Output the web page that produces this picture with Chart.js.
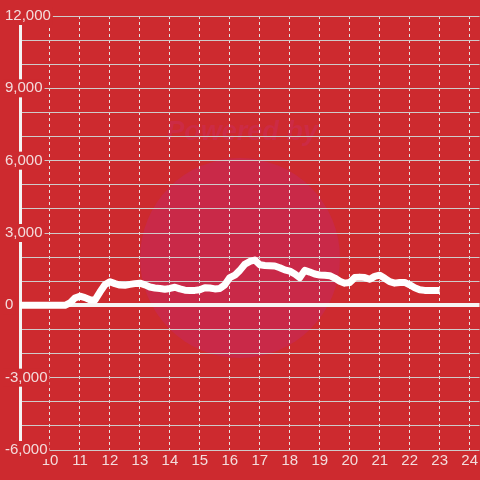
<!DOCTYPE html>
<html>
<head>
<meta charset="utf-8">
<script src="https://cdn.jsdelivr.net/npm/chart.js@4.4.1/dist/chart.umd.min.js"></script>
<style>
  html, body { margin: 0; padding: 0; background: #cd2a2f; }
  #wrap { width: 480px; height: 480px; }
</style>
</head>
<body>
<div id="wrap"><canvas id="myChart"></canvas></div>
<script>
// hours of the day, one point every 10 minutes from 9:00 to 23:00
const hours = [
  9, 9.167, 9.333, 9.5, 9.667, 9.833, 10, 10.167, 10.333, 10.5,
  10.667, 10.833, 11, 11.167, 11.333, 11.5, 11.667, 11.833, 12, 12.167,
  12.333, 12.5, 12.667, 12.833, 13, 13.167, 13.333, 13.5, 13.667, 13.833,
  14, 14.167, 14.333, 14.5, 14.667, 14.833, 15, 15.167, 15.333, 15.5,
  15.667, 15.833, 16, 16.167, 16.333, 16.5, 16.667, 16.833, 17, 17.167,
  17.333, 17.5, 17.667, 17.833, 18, 18.167, 18.333, 18.5, 18.667, 18.833,
  19, 19.167, 19.333, 19.5, 19.667, 19.833, 20, 20.167, 20.333, 20.5,
  20.667, 20.833, 21, 21.167, 21.333, 21.5, 21.667, 21.833, 22, 22.167,
  22.333, 22.5, 22.667, 22.833, 23
];
const values = [
  0, 0, 0, 0, 0, 0, 0, 0, 0, 0,
  100, 300, 380, 320, 230, 220, 550, 850, 980, 900,
  840, 830, 870, 900, 920, 850, 760, 720, 700, 670,
  700, 750, 680, 630, 620, 620, 650, 730, 720, 680,
  700, 850, 1150, 1250, 1450, 1700, 1820, 1880, 1680, 1650,
  1640, 1630, 1560, 1470, 1420, 1300, 1150, 1450, 1380, 1300,
  1260, 1250, 1230, 1130, 1000, 920, 950, 1150, 1170, 1150,
  1080, 1200, 1250, 1120, 980, 920, 950, 950, 850, 730,
  650, 620, 620, 620, 620
];
const xTicks = [10, 11, 12, 13, 14, 15, 16, 17, 18, 19, 20, 21, 22, 23, 24];
const yLabelTicks = [-6000, -3000, 0, 3000, 6000, 9000, 12000];

const bgColor = '#cd2a2f';
const textColor = '#f3dcdc';

// red background plus the faint watermark behind the grid
const backdrop = {
  id: 'backdrop',
  beforeDraw(chart) {
    const c = chart.ctx;
    c.save();
    c.fillStyle = bgColor;
    c.fillRect(0, 0, chart.width, chart.height);
    c.fillStyle = '#c92948';
    c.beginPath();
    c.arc(240, 258, 100, 0, Math.PI * 2);
    c.fill();
    c.fillStyle = '#cc2b45';
    c.font = 'italic bold 27px "Liberation Sans", Arial, sans-serif';
    c.textAlign = 'center';
    c.textBaseline = 'middle';
    c.fillText('Powered by', 242, 133);
    c.restore();
  }
};

const ctx = document.getElementById('myChart').getContext('2d');
const myChart = new Chart(ctx, {
  type: 'line',
  data: {
    datasets: [{
      data: hours.map((h, i) => ({ x: h, y: values[i] })),
      borderColor: '#ffffff',
      borderWidth: 7,
      borderJoinStyle: 'round',
      pointRadius: 0,
      tension: 0,
      fill: false
    }]
  },
  options: {
    responsive: true,
    maintainAspectRatio: false,
    animation: false,
    layout: { padding: { left: 20, top: 16, right: 0, bottom: 8 } },
    plugins: { legend: { display: false }, tooltip: { enabled: false } },
    scales: {
      x: {
        type: 'linear',
        min: 9,
        max: 24.33,
        afterBuildTicks: s => { s.ticks = xTicks.map(v => ({ value: v })); },
        border: { display: false, dash: [3, 3] },
        grid: {
          color: '#e6e6e6',
          lineWidth: 1,
          drawTicks: false
        },
        ticks: {
          color: textColor,
          font: { size: 15, family: '"Liberation Sans", Arial, sans-serif' },
          padding: 2,
          maxRotation: 0,
          autoSkip: false
        }
      },
      y: {
        min: -6000,
        max: 12000,
        afterFit: s => { s.width = 0; },
        border: { display: true, color: '#f4f4f4', width: 3 },
        grid: {
          drawTicks: false,
          color: ctx => ctx.tick && ctx.tick.value === 0 ? '#f7f4f4' : '#cfcaca',
          lineWidth: ctx => ctx.tick && ctx.tick.value === 0 ? 4 : 1
        },
        ticks: {
          stepSize: 1000,
          mirror: true,
          padding: -15,
          color: textColor,
          font: { size: 15, family: '"Liberation Sans", Arial, sans-serif' },
          showLabelBackdrop: true,
          backdropColor: ctx => yLabelTicks.includes(ctx.tick.value) ? bgColor : 'rgba(0,0,0,0)',
          backdropPadding: { top: 0, bottom: 0, left: 2, right: 2 },
          callback: v => yLabelTicks.includes(v) ? v.toLocaleString('en-US') : ''
        }
      }
    }
  },
  plugins: [backdrop]
});
</script>
</body>
</html>
